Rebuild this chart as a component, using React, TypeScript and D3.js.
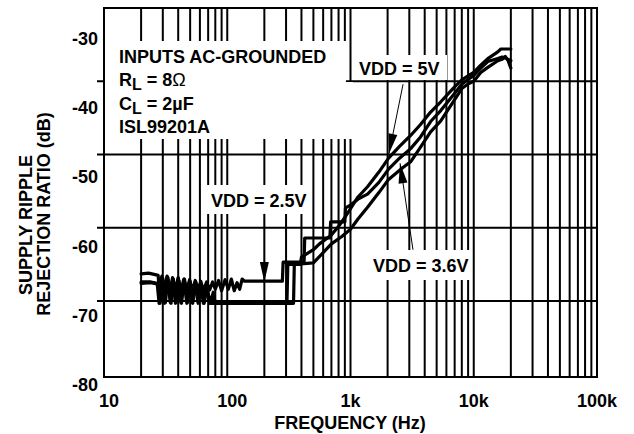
import * as d3 from 'd3';

// frequency (Hz) and supply ripple rejection (dB) per supply voltage
const freq25 = [20, 23, 26, 27.5, 28, 29.5, 31, 32.5, 34.5, 36, 38, 40, 42, 44.5, 47, 49.5, 52, 55, 58, 61, 64, 68, 72, 76, 80, 85, 90, 96, 102, 108, 114, 120, 126, 132, 138, 145, 200, 280, 284, 420, 425, 680, 690, 900, 910, 1000, 1150, 1375, 1700, 2037, 2500, 3076, 3700, 4467, 5400, 6873, 8000, 8933, 10000, 11400, 13000, 15670, 17000, 18500, 20000];
const srr25 = [-66.3, -66.2, -66.4, -66.5, -68.3, -66.6, -68.4, -66.6, -68.5, -66.8, -68.4, -66.8, -68.6, -67.0, -68.5, -67.1, -68.6, -67.2, -68.5, -67.3, -68.6, -67.4, -68.5, -67.4, -68.4, -67.2, -68.6, -67.1, -68.4, -67.0, -68.6, -67.5, -68.4, -67.0, -67.3, -67.3, -67.3, -67.3, -64.7, -64.7, -61.4, -61.4, -59.2, -59.2, -57.3, -56.9, -56.1, -55.4, -53.8, -52.0, -50.5, -49.2, -47.6, -45.5, -44.0, -41.8, -40.4, -39.8, -39.2, -38.2, -37.3, -36.9, -36.7, -36.9, -37.2];

const freq36 = [20, 24, 27.5, 28.5, 30, 31.5, 33, 35, 36.5, 38.5, 40.5, 42.5, 45, 47.5, 50, 52.5, 55.5, 58.5, 61.5, 65, 68.5, 73, 77, 80, 345, 350, 500, 600, 700, 850, 1000, 1150, 1375, 1700, 2037, 2650, 3076, 3700, 4467, 5400, 6873, 8000, 8933, 10000, 11400, 13000, 15670, 17000, 18000, 19000, 20000];
const srr36 = [-67.6, -67.5, -67.7, -70.3, -66.9, -70.2, -66.8, -70.3, -67.0, -70.2, -67.2, -70.3, -67.0, -70.2, -67.3, -70.3, -67.4, -70.2, -67.8, -70.3, -68.2, -70.3, -68.8, -70.3, -70.3, -65.0, -64.8, -63.4, -62.2, -61.2, -60.2, -58.8, -57.2, -55.2, -53.4, -51.8, -51.0, -49.0, -46.9, -45.4, -42.7, -41.0, -40.4, -40.0, -38.8, -38.1, -37.2, -37.0, -36.6, -37.2, -38.2];

const freq50 = [20, 24, 27, 28, 29.5, 31, 32.5, 34.5, 36, 38, 40, 42, 44.5, 47, 49.5, 52, 55, 58, 61, 64, 68, 72, 305, 310, 392, 400, 500, 560, 700, 800, 900, 1000, 1150, 1375, 1700, 2037, 2500, 3076, 3700, 4467, 5400, 6873, 8000, 8933, 10000, 11400, 13000, 15670, 16600, 18000, 20000];
const srr50 = [-67.4, -67.4, -67.6, -70.3, -66.8, -70.3, -66.7, -70.2, -67.0, -70.3, -66.9, -70.2, -67.2, -70.3, -67.3, -70.2, -67.6, -70.3, -67.7, -70.3, -68.1, -70.3, -70.3, -65.0, -65.0, -64.0, -63.0, -62.2, -61.0, -59.8, -58.6, -57.4, -55.8, -54.4, -52.4, -50.5, -48.9, -47.4, -45.9, -44.2, -42.8, -40.9, -39.8, -39.3, -38.8, -37.8, -36.9, -36.0, -35.6, -35.6, -35.6];

const xTickValues = [10, 100, 1000, 10000, 100000];
const xTickLabels = ['10', '100', '1k', '10k', '100k'];
const yTickValues = [-80, -70, -60, -50, -40, -30];
const yTickLabels = ['-80', '-70', '-60', '-50', '-40', '-30'];

const W = 634;
const H = 434;
const FONT = '"Liberation Sans", Arial, sans-serif';

const x = d3.scaleLog().domain([10, 100000]).range([104, 597]);
const y = d3.scaleLinear().domain([-80, -70, -30]).range([377, 301, 8]);
// tick labels in the original sit on their own, slightly tighter spacing
const yLabel = d3.scaleLinear().domain([-80, -30]).range([391, 45]);

const line = d3
  .line<[number, number]>()
  .x((d) => x(d[0]))
  .y((d) => y(d[1]))
  .curve(d3.curveLinear);

const zip = (f: number[], v: number[]) => f.map((d, i) => [d, v[i]] as [number, number]);

// arrows: tail / tip in data units
const arrows = [
  { from: [2670, -40.4], to: [2050, -49.9] },
  { from: [3214, -63.0], to: [2523, -51.2] },
  { from: [200, -58.1], to: [200, -67.4] },
];

function arrowHead(x1: number, y1: number, x2: number, y2: number) {
  const a = Math.atan2(y2 - y1, x2 - x1);
  const len = 20;
  const hw = 4.5;
  const bx = x2 - len * Math.cos(a);
  const by = y2 - len * Math.sin(a);
  const px = -Math.sin(a) * hw;
  const py = Math.cos(a) * hw;
  return `M${x2},${y2}L${bx + px},${by + py}L${bx - px},${by - py}Z`;
}

export default function App() {
  const gridX: number[] = [];
  [10, 100, 1000, 10000].forEach((d) => {
    for (let m = 1; m < 10; m++) gridX.push(d * m);
  });
  gridX.push(100000);

  const series = [zip(freq25, srr25), zip(freq36, srr36), zip(freq50, srr50)];
  const [x0, x1] = x.range();

  const textStyle = { fontFamily: FONT, fontWeight: 700, fontSize: 18, fill: '#000' } as const;

  return (
    <svg width={W} height={H} style={{ position: 'absolute', left: 0, top: 0, background: '#fff' }}>
      {/* grid */}
      <g stroke="#000" strokeWidth={2}>
        {gridX.map((v) => (
          <line key={v} x1={x(v)} x2={x(v)} y1={y(-30) - 1} y2={y(-80) + 1} />
        ))}
        {yTickValues.map((v) => (
          <line
            key={v}
            x1={v === -80 || v === -30 ? x0 : x0 - 7}
            x2={x1 + 1}
            y1={y(v)}
            y2={y(v)}
          />
        ))}
      </g>

      {/* annotation backgrounds */}
      <g fill="#fff">
        <rect x={x0 + 1} y={41} width={241} height={41} />
        <rect x={x0 + 1} y={82} width={248} height={57} />
        <rect x={355} y={55} width={92} height={25} />
        <rect x={205} y={185} width={106} height={29} />
        <rect x={368} y={250} width={103} height={30} />
      </g>

      {/* curves */}
      <g fill="none" stroke="#000" strokeWidth={3.2} strokeLinejoin="round" strokeLinecap="round">
        {series.map((s, i) => (
          <path key={i} d={line(s) ?? ''} />
        ))}
      </g>

      {/* arrows */}
      {arrows.map((a, i) => {
        const ax1 = x(a.from[0]);
        const ay1 = y(a.from[1]);
        const ax2 = x(a.to[0]);
        const ay2 = y(a.to[1]);
        return (
          <g key={i}>
            <line x1={ax1} y1={ay1} x2={ax2} y2={ay2} stroke="#000" strokeWidth={1} />
            <path d={arrowHead(ax1, ay1, ax2, ay2)} fill="#000" />
          </g>
        );
      })}

      {/* annotation text */}
      <g style={textStyle}>
        <text x={119} y={63}>INPUTS AC-GROUNDED</text>
        <text x={119} y={86}>
          R<tspan fontSize={16} dy={4}>L</tspan>
          <tspan dy={-4}> = 8</tspan>
          <tspan fontWeight={400}>Ω</tspan>
        </text>
        <text x={119} y={110}>
          C<tspan fontSize={16} dy={4}>L</tspan>
          <tspan dy={-4}> = 2µF</tspan>
        </text>
        <text x={119} y={133}>ISL99201A</text>
        <text x={359} y={75}>VDD = 5V</text>
        <text x={211} y={207}>VDD = 2.5V</text>
        <text x={373} y={272}>VDD = 3.6V</text>
      </g>

      {/* axes labels */}
      <g style={textStyle}>
        {yTickValues.map((v, i) => (
          <text key={v} x={98} y={yLabel(v)} textAnchor="end">
            {yTickLabels[i]}
          </text>
        ))}
        {xTickValues.map((v, i) => (
          <text key={v} x={x(v) + (i < 2 ? 5 : 0)} y={407} textAnchor="middle">
            {xTickLabels[i]}
          </text>
        ))}
        <text x={350} y={429} textAnchor="middle">FREQUENCY (Hz)</text>
        <text transform="translate(32,225) rotate(-90)" textAnchor="middle">SUPPLY RIPPLE</text>
        <text transform="translate(50,214) rotate(-90)" textAnchor="middle">REJECTION RATIO (dB)</text>
      </g>
    </svg>
  );
}
